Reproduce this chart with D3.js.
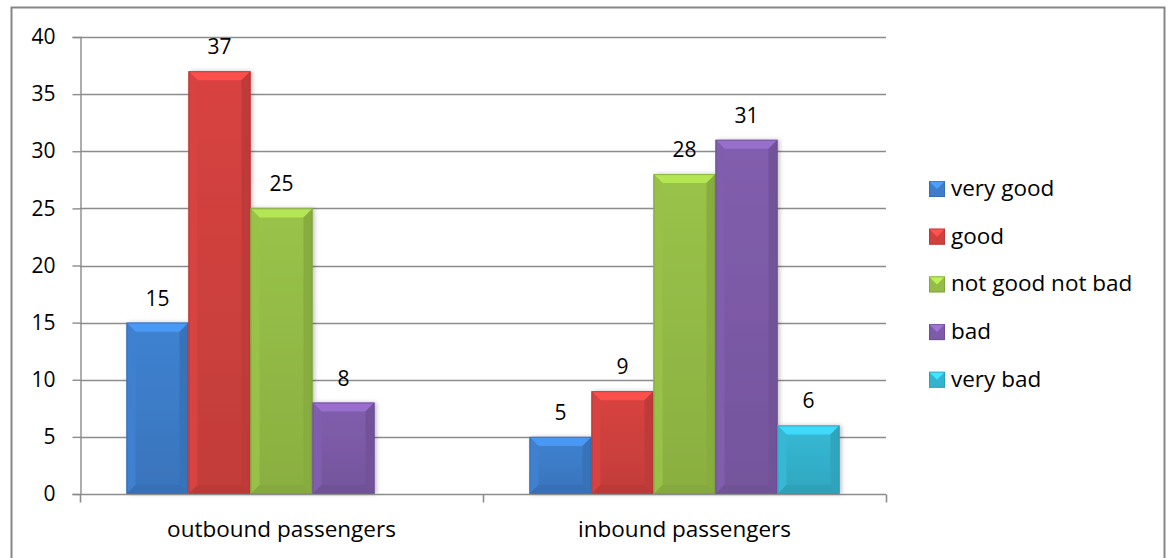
<!DOCTYPE html>
<html>
<head>
<meta charset="utf-8">
<script src="https://cdn.jsdelivr.net/npm/d3@7/dist/d3.min.js"></script>
<style>
  html, body { margin: 0; padding: 0; background: #fff; }
  svg { display: block; }
  text { font-family: "Open Sans", "Noto Sans", sans-serif; fill: #000; }
</style>
</head>
<body>
<svg id="chart" width="1170" height="558"></svg>
<script>
// Passenger ratings, grouped by direction of travel
const categories = ["outbound passengers", "inbound passengers"];
const seriesNames = ["very good", "good", "not good not bad", "bad", "very bad"];
const seriesColors = ["#3D7DCA", "#D0413E", "#94BC46", "#7D5BA8", "#34B3CE"];
const veryGood = [15, 5];
const good = [37, 9];
const neutral = [25, 28];
const bad = [8, 31];
const veryBad = [null, 6];
const yTicks = [0, 5, 10, 15, 20, 25, 30, 35, 40];

const seriesValues = [veryGood, good, neutral, bad, veryBad];

const svg = d3.select("#chart");
const plot = { left: 80, right: 886, top: 37, bottom: 494 };
const wordSize = "22.5px";
const numSize = "21px";

// Outer chart frame
svg.append("rect")
  .attr("x", 11.5).attr("y", 7.5)
  .attr("width", 1153).attr("height", 560)
  .attr("fill", "#fff").attr("stroke", "#868686").attr("stroke-width", 2);

const y = d3.scaleLinear().domain([0, 40]).range([plot.bottom, plot.top]);
const x0 = d3.scaleBand().domain(categories).range([plot.left, plot.right]);
const x1 = d3.scaleBand().domain(seriesNames)
  .range([0, x0.bandwidth()]).paddingOuter(0.75);

const defs = svg.append("defs");
const shadow = defs.append("filter").attr("id", "shadow")
  .attr("x", "-20%").attr("y", "-10%").attr("width", "140%").attr("height", "120%");
shadow.append("feDropShadow").attr("dx", 2).attr("dy", 0)
  .attr("stdDeviation", 2).attr("flood-color", "#000").attr("flood-opacity", 0.25);

seriesColors.forEach((c, i) => {
  const g = defs.append("linearGradient").attr("id", "body" + i)
    .attr("x1", 0).attr("x2", 0).attr("y1", 0).attr("y2", 1);
  g.append("stop").attr("offset", 0).attr("stop-color", d3.color(c).brighter(0.1));
  g.append("stop").attr("offset", 1).attr("stop-color", d3.color(c).darker(0.2));
});

// Gridlines
svg.append("g")
  .selectAll("line")
  .data(yTicks.filter(t => t > 0))
  .join("line")
  .attr("x1", plot.left).attr("x2", plot.right)
  .attr("y1", d => Math.round(y(d)) + 0.5).attr("y2", d => Math.round(y(d)) + 0.5)
  .attr("stroke", "#8c8c8c").attr("stroke-width", 1.4);

// Y axis
const yAxis = svg.append("g")
  .attr("transform", `translate(${plot.left + 0.5},0)`)
  .call(d3.axisLeft(y).tickValues(yTicks).tickSize(8).tickPadding(17));
yAxis.select(".domain").attr("stroke", "#8c8c8c").attr("stroke-width", 1.4);
yAxis.selectAll(".tick line").attr("stroke", "#8c8c8c").attr("stroke-width", 1.4);
yAxis.selectAll(".tick text").style("font-size", numSize)
  .style("font-family", '"Open Sans", sans-serif').attr("fill", "#000");

// Bars
const bevel = 9;
const groups = svg.append("g").selectAll("g")
  .data(categories)
  .join("g")
  .attr("transform", d => `translate(${x0(d)},0)`);

groups.each(function (cat, ci) {
  const g = d3.select(this);
  seriesNames.forEach((s, si) => {
    const v = seriesValues[si][ci];
    if (v == null) return;
    const bx = x1(s), bw = x1.bandwidth();
    const top = y(v), h = y(0) - y(v);
    const base = seriesColors[si];
    const bar = g.append("g");
    bar.append("rect").attr("x", bx).attr("y", top).attr("width", bw).attr("height", h)
      .attr("fill", `url(#body${si})`).attr("filter", "url(#shadow)");
    const b = Math.min(bevel, h / 2);
    // top bevel face
    bar.append("path")
      .attr("d", `M${bx},${top}L${bx + bw},${top}L${bx + bw - b},${top + b}L${bx + b},${top + b}Z`)
      .attr("fill", d3.color(base).brighter(0.55));
    // left bevel face
    bar.append("path")
      .attr("d", `M${bx},${top}L${bx + b},${top + b}L${bx + b},${top + h - b}L${bx},${top + h}Z`)
      .attr("fill", d3.color(base).brighter(0.08));
    // right bevel face
    bar.append("path")
      .attr("d", `M${bx + bw},${top}L${bx + bw - b},${top + b}L${bx + bw - b},${top + h - b}L${bx + bw},${top + h}Z`)
      .attr("fill", d3.color(base).darker(0.25));
    // bottom bevel face
    bar.append("path")
      .attr("d", `M${bx},${top + h}L${bx + b},${top + h - b}L${bx + bw - b},${top + h - b}L${bx + bw},${top + h}Z`)
      .attr("fill", d3.color(base).darker(0.3));
    bar.append("rect").attr("x", bx + 0.5).attr("y", top + 0.5).attr("width", bw - 1).attr("height", h - 1)
      .attr("fill", "none").attr("stroke", d3.color(base).darker(0.6)).attr("stroke-width", 1).attr("opacity", 0.6);
    // value label
    g.append("text")
      .attr("x", bx + bw / 2).attr("y", top - 17)
      .attr("text-anchor", "middle")
      .style("font-size", numSize)
      .text(v);
  });
});

// X axis
const xAxis = svg.append("g")
  .attr("transform", `translate(0,${plot.bottom + 0.5})`);
xAxis.append("line").attr("x1", plot.left).attr("x2", plot.right)
  .attr("stroke", "#8c8c8c").attr("stroke-width", 1.6);
const boundaries = [plot.left, x0(categories[1]), plot.right];
xAxis.selectAll(".sep").data(boundaries).join("line")
  .attr("x1", d => d + 0.5).attr("x2", d => d + 0.5)
  .attr("y1", 0).attr("y2", 8)
  .attr("stroke", "#8c8c8c").attr("stroke-width", 1.6);
xAxis.selectAll(".cat").data(categories).join("text")
  .attr("x", d => x0(d) + x0.bandwidth() / 2)
  .attr("y", 42)
  .attr("text-anchor", "middle")
  .style("font-size", wordSize)
  .text(d => d);

// Legend
const legend = svg.append("g").attr("transform", "translate(929,189)");
const rowGap = 47.7;
seriesNames.forEach((s, i) => {
  const row = legend.append("g").attr("transform", `translate(0,${i * rowGap})`);
  const c = seriesColors[i];
  const sz = 16;
  row.append("rect").attr("x", 0).attr("y", -sz / 2).attr("width", sz).attr("height", sz)
    .attr("fill", c);
  row.append("path")
    .attr("d", `M0,${-sz / 2}L${sz},${-sz / 2}L${sz / 2},${0}Z`)
    .attr("fill", d3.color(c).brighter(0.7));
  row.append("rect").attr("x", 0.5).attr("y", -sz / 2 + 0.5).attr("width", sz - 1).attr("height", sz - 1)
    .attr("fill", "none").attr("stroke", d3.color(c).darker(0.6)).attr("opacity", 0.6);
  row.append("text").attr("x", 22).attr("y", 7)
    .style("font-size", wordSize)
    .text(s);
});
</script>
</body>
</html>
